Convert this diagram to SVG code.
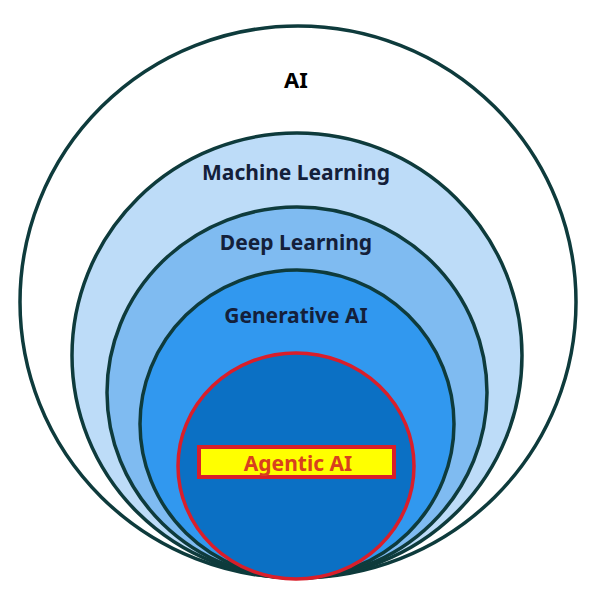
<svg xmlns="http://www.w3.org/2000/svg" width="594" height="600" viewBox="0 0 594 600">
<style>
.ring{stroke:#0e3b3c;stroke-width:3.5}
.lbl{font-family:"Noto Sans","DejaVu Sans",sans-serif;font-weight:bold;text-anchor:middle;fill:#14203a}
</style>
<rect width="594" height="600" fill="#ffffff"/>
<g id="ai"><ellipse class="ring" cx="298" cy="302" rx="278" ry="276" fill="#ffffff"/><text class="lbl" x="296" y="88" font-size="22" style="fill:#000000">AI</text></g>
<g id="ml"><ellipse class="ring" cx="297" cy="355.5" rx="225" ry="222.5" fill="#bddcf8"/><text class="lbl" x="296" y="180" font-size="21">Machine Learning</text></g>
<g id="dl"><ellipse class="ring" cx="297" cy="392.5" rx="190" ry="185.5" fill="#7fbbf1"/><text class="lbl" x="296" y="250" font-size="21">Deep Learning</text></g>
<g id="gen"><ellipse class="ring" cx="297" cy="424" rx="157" ry="154" fill="#3198ef"/><text class="lbl" x="296" y="323" font-size="21">Generative AI</text></g>
<g id="agentic"><ellipse cx="296" cy="466" rx="118" ry="113" fill="#0b70c4" stroke="#d91e2a" stroke-width="3.5"/>
<rect x="199" y="447" width="195" height="30" fill="#ffff00" stroke="#d91e2a" stroke-width="4"/>
<text class="lbl" x="298" y="471" font-size="21" style="fill:#d8401e">Agentic AI</text></g>
<g id="connectors"/>
</svg>
